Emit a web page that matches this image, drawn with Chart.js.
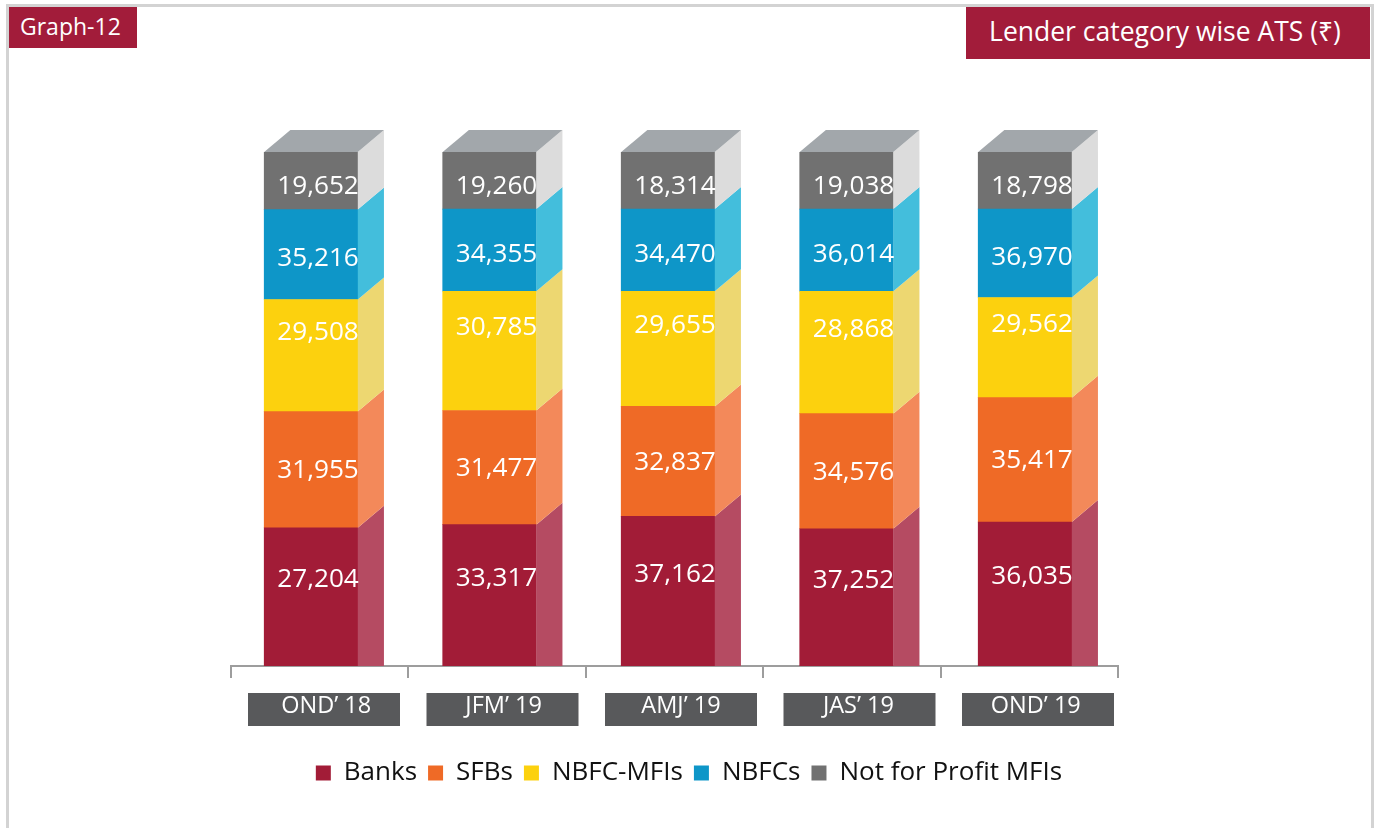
<!DOCTYPE html>
<html>
<head>
<meta charset="utf-8">
<script src="https://cdn.jsdelivr.net/npm/chart.js@4.4.0/dist/chart.umd.min.js"></script>
<style>
  html, body { margin: 0; padding: 0; background: #ffffff; }
  body { width: 1378px; height: 828px; position: relative; overflow: hidden; font-family: "Open Sans", sans-serif; }
  #frame { position: absolute; left: 6px; top: 4px; width: 1368px; height: 900px; border: 3px solid #d3d3d3; box-sizing: border-box; }
  #tag { position: absolute; left: 9px; top: 7px; width: 128px; height: 41px; background: #a21c3a; color: #fff; font-size: 23px; line-height: 39px; padding-left: 11px; box-sizing: border-box; }
  #title { position: absolute; left: 966px; top: 7px; width: 404px; height: 52px; background: #a21c3a; color: #fff; font-size: 26.5px; line-height: 49px; text-align: center; padding-right: 6px; box-sizing: border-box; white-space: nowrap; }
  canvas { position: absolute; left: 0; top: 0; }
</style>
</head>
<body>
<div id="frame"></div>
<canvas id="c" width="1378" height="828"></canvas>
<div id="tag">Graph-12</div>
<div id="title">Lender category wise ATS (₹)</div>
<script>
// ---- Data ----
const categories = ["OND’ 18", "JFM’ 19", "AMJ’ 19", "JAS’ 19", "OND’ 19"];
const seriesNames = ["Banks", "SFBs", "NBFC-MFIs", "NBFCs", "Not for Profit MFIs"];

// Average ticket size values (₹) shown as labels
const banksATS   = [27204, 33317, 37162, 37252, 36035];
const sfbsATS    = [31955, 31477, 32837, 34576, 35417];
const nbfcMfiATS = [29508, 30785, 29655, 28868, 29562];
const nbfcsATS   = [35216, 34355, 34470, 36014, 36970];
const nfpATS     = [19652, 19260, 18314, 19038, 18798];

// Segment heights (share of each column, %)
const banksShare   = [26.9, 27.5, 29.1, 26.7, 28.0];
const sfbsShare    = [22.6, 22.2, 21.4, 22.4, 24.2];
const nbfcMfiShare = [21.8, 23.2, 22.4, 23.8, 19.5];
const nbfcsShare   = [17.5, 16.0, 16.0, 16.0, 17.2];
const nfpShare     = [11.2, 11.1, 11.1, 11.1, 11.1];

// ---- Styles ----
const frontColors = ["#a21c37", "#ef6a26", "#fcd10e", "#0e96c8", "#717171"];
const sideColors  = ["#b54b62", "#f3895a", "#edd771", "#43bedc", "#dcdcdc"];
const labelShiftY = [-18, 0, -24, 3, 5];   // per-series label nudge (px)
const topColor = "#a2a7ab";
const DX = 26, DY = 22;       // 3D depth
const BAR_SHIFT = -6.5;       // front face offset from category centre
const BAR_SPREAD = 1.0062;    // bars sit on a slightly wider pitch than the axis ticks
const LABEL_DX = 7;           // value label offset from front centre
const BOX_SHIFT = 6.5;        // category box offset

const shares = [banksShare, sfbsShare, nbfcMfiShare, nbfcsShare, nfpShare];
const atsValues = [banksATS, sfbsATS, nbfcMfiATS, nbfcsATS, nfpATS];

function midX(chart) { return (chart.chartArea.left + chart.chartArea.right) / 2; }

const plugin3d = {
  id: 'plugin3d',
  beforeDraw(chart) {
    const { ctx, chartArea, scales: { x } } = chart;
    const m = midX(chart);
    ctx.save();
    ctx.fillStyle = '#58595b';
    categories.forEach((c, i) => {
      const cx = m + (x.getPixelForValue(i) - m) * BAR_SPREAD + BOX_SHIFT;
      ctx.fillRect(cx - 76, chartArea.bottom + 27, 152, 33);
    });
    ctx.restore();
  },
  beforeDatasetsDraw(chart) {
    const ctx = chart.ctx;
    const m = midX(chart);
    ctx.save();
    ctx.translate(m + BAR_SHIFT, 0);
    ctx.scale(BAR_SPREAD, 1);
    ctx.translate(-m, 0);
  },
  afterDatasetsDraw(chart) {
    const ctx = chart.ctx;
    const n = chart.data.datasets.length;
    chart.data.datasets.forEach((ds, di) => {
      const meta = chart.getDatasetMeta(di);
      meta.data.forEach((bar) => {
        const p = bar.getProps(['x', 'y', 'base', 'width'], true);
        const x0 = p.x - p.width / 2, x1 = p.x + p.width / 2;
        ctx.fillStyle = sideColors[di];
        ctx.beginPath();
        ctx.moveTo(x1, p.y);
        ctx.lineTo(x1 + DX, p.y - DY);
        ctx.lineTo(x1 + DX, di === 0 ? p.base : p.base - DY);
        ctx.lineTo(x1, p.base);
        ctx.closePath();
        ctx.fill();
        if (di === n - 1) {
          ctx.fillStyle = topColor;
          ctx.beginPath();
          ctx.moveTo(x0, p.y);
          ctx.lineTo(x1, p.y);
          ctx.lineTo(x1 + DX, p.y - DY);
          ctx.lineTo(x0 + DX, p.y - DY);
          ctx.closePath();
          ctx.fill();
        }
      });
    });
    // value labels
    ctx.fillStyle = '#ffffff';
    ctx.font = '26px "Open Sans"';
    ctx.textAlign = 'center';
    ctx.textBaseline = 'middle';
    chart.data.datasets.forEach((ds, di) => {
      const meta = chart.getDatasetMeta(di);
      meta.data.forEach((bar, i) => {
        const p = bar.getProps(['x', 'y', 'base'], true);
        ctx.fillText(atsValues[di][i].toLocaleString('en-US'), p.x + LABEL_DX, (p.y + p.base) / 2 + 1 + labelShiftY[di]);
      });
    });
    ctx.restore();
  }
};

const datasets = seriesNames.map((name, k) => ({
  label: name,
  data: shares[k],
  backgroundColor: frontColors[k],
  borderWidth: 0,
  barThickness: 93,
  stack: 's'
}));

Chart.defaults.font.family = '"Open Sans", sans-serif';

new Chart(document.getElementById('c'), {
  type: 'bar',
  data: { labels: categories, datasets },
  options: {
    responsive: false,
    animation: false,
    devicePixelRatio: 1,
    layout: { padding: { top: 152, left: 231, right: 231, bottom: 32 } },
    plugins: {
      tooltip: { enabled: false },
      legend: {
        position: 'bottom',
        labels: {
          boxWidth: 15, boxHeight: 15, padding: 11,
          color: '#111111',
          font: { size: 26 }
        }
      }
    },
    scales: {
      x: {
        stacked: true,
        offset: true,
        grid: { display: true, drawOnChartArea: false, drawTicks: true, tickLength: 12, color: '#9d9d9d', lineWidth: 2, offset: true },
        border: { display: true, color: '#9d9d9d', width: 2 },
        ticks: { color: '#ffffff', font: { size: 23.5 }, padding: 14, labelOffset: BOX_SHIFT, maxRotation: 0 },
        afterFit(scale) { scale.height = 83; }
      },
      y: {
        stacked: true,
        position: 'right',
        min: 0, max: 100,
        grid: { display: false },
        border: { display: false },
        ticks: { display: false },
        afterFit(scale) { scale.width = 29; }
      }
    }
  },
  plugins: [plugin3d]
});
</script>
</body>
</html>
